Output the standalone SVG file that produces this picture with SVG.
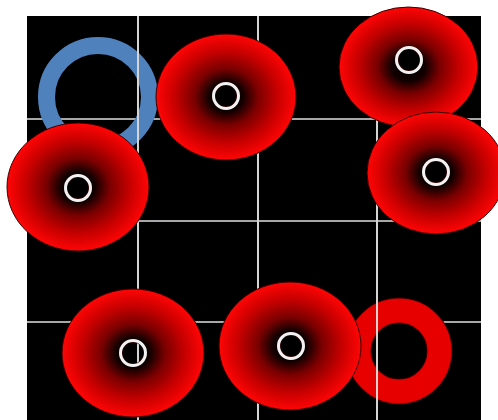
<svg xmlns="http://www.w3.org/2000/svg" width="498" height="420" viewBox="0 0 498 420">
  <defs>
    <radialGradient id="disk" cx="0.5" cy="0.5" r="0.5">
      <stop offset="0" stop-color="#000000"/>
      <stop offset="0.24" stop-color="#120000"/>
      <stop offset="0.45" stop-color="#7a0000"/>
      <stop offset="0.72" stop-color="#c40000"/>
      <stop offset="1" stop-color="#ff0505"/>
    </radialGradient>
    <style>
      .hline { stroke: #a8a8a8; stroke-width: 2; }
      .vline { stroke: #d4d4d4; stroke-width: 2; }
      .disk { fill: url(#disk); fill-rule: evenodd; stroke: #3a0000; stroke-width: 1; }
      .hole { fill: none; stroke: #f2f2f2; stroke-width: 3; }
    </style>
  </defs>
  <rect x="0" y="0" width="498" height="420" fill="#ffffff"/>
  <rect id="board" x="27" y="16" width="454" height="410" fill="#000000"/>
  <g id="grid-h">
    <line class="hline" x1="27" y1="119" x2="481" y2="119"/>
    <line class="hline" x1="27" y1="221" x2="481" y2="221"/>
    <line class="hline" x1="27" y1="322" x2="481" y2="322"/>
  </g>
  <g id="blue-ring">
    <circle cx="98" cy="97" r="51.5" fill="none" stroke="#4f81bd" stroke-width="17"/>
  </g>
  <g id="red-ring">
    <circle cx="399" cy="351" r="40.5" fill="none" stroke="#3a0000" stroke-width="26"/>
    <circle cx="399" cy="351" r="40.5" fill="none" stroke="#e60000" stroke-width="24"/>
  </g>
  <g id="grid-v">
    <line class="vline" x1="138" y1="16" x2="138" y2="420"/>
    <line class="vline" x1="258" y1="16" x2="258" y2="420"/>
    <line class="vline" x1="377" y1="16" x2="377" y2="420"/>
  </g>
  <g id="disk-2">
    <path class="disk" d="M339,67 a69.5,60 0 1,0 139,0 a69.5,60 0 1,0 -139,0 Z M398,60 a11,11 0 1,0 22,0 a11,11 0 1,0 -22,0 Z"/>
    <circle class="hole" cx="409" cy="60" r="12.5"/>
  </g>
  <g id="disk-3">
    <path class="disk" d="M367,173 a69,61 0 1,0 138,0 a69,61 0 1,0 -138,0 Z M425,172 a11,11 0 1,0 22,0 a11,11 0 1,0 -22,0 Z"/>
    <circle class="hole" cx="436" cy="172" r="12.5"/>
  </g>
  <g id="disk-1">
    <path class="disk" d="M156,97 a70,63 0 1,0 140,0 a70,63 0 1,0 -140,0 Z M215,96 a11,11 0 1,0 22,0 a11,11 0 1,0 -22,0 Z"/>
    <circle class="hole" cx="226" cy="96" r="12.5"/>
  </g>
  <g id="disk-4">
    <path class="disk" d="M7,187 a71,64 0 1,0 142,0 a71,64 0 1,0 -142,0 Z M67,188 a11,11 0 1,0 22,0 a11,11 0 1,0 -22,0 Z"/>
    <circle class="hole" cx="78" cy="188" r="12.5"/>
  </g>
  <g id="disk-5">
    <path class="disk" d="M62,353 a71,64 0 1,0 142,0 a71,64 0 1,0 -142,0 Z M122,353 a11,11 0 1,0 22,0 a11,11 0 1,0 -22,0 Z"/>
    <circle class="hole" cx="133" cy="353" r="12.5"/>
  </g>
  <g id="disk-6">
    <path class="disk" d="M219,346 a71,64 0 1,0 142,0 a71,64 0 1,0 -142,0 Z M280,346 a11,11 0 1,0 22,0 a11,11 0 1,0 -22,0 Z"/>
    <circle class="hole" cx="291" cy="346" r="12.5"/>
  </g>
</svg>
